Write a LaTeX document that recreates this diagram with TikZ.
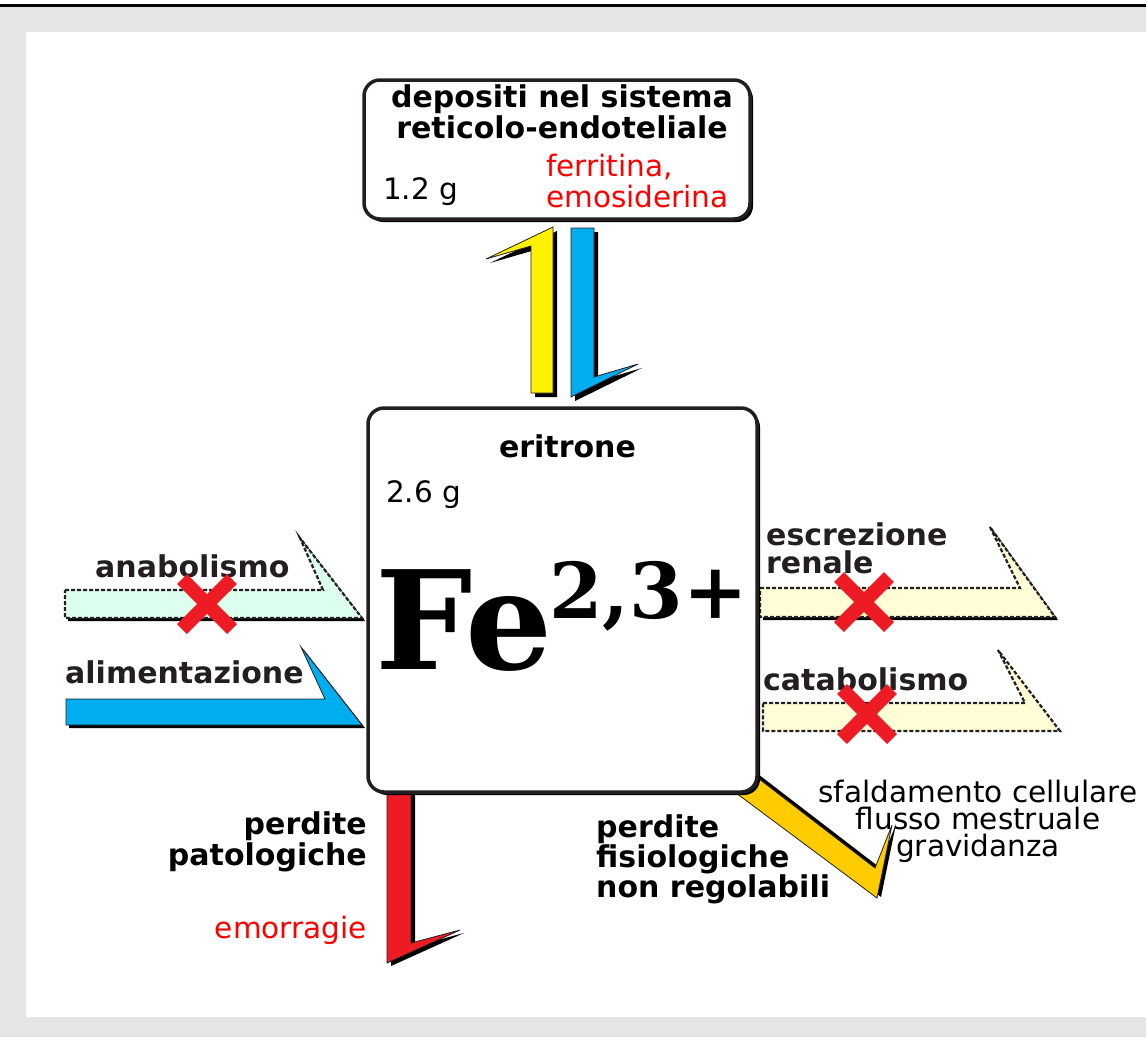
\documentclass[tikz,border=0pt]{standalone}
\usepackage{fontspec}
\setmainfont{DejaVu Sans}
\newfontfamily\feserif{DejaVu Serif}
\usepackage{tikz}
\usetikzlibrary{positioning}
\definecolor{feInk}{HTML}{231F20}
\definecolor{feGray}{HTML}{E6E6E6}
\definecolor{feBlue}{HTML}{00AEEF}
\definecolor{feYellow}{HTML}{FFF200}
\definecolor{feGold}{HTML}{FFCC00}
\definecolor{feRed}{HTML}{ED1C24}
\definecolor{feMint}{HTML}{DDFFEE}
\definecolor{feCream}{HTML}{FFFDD6}
\newcommand{\fetxt}{\fontsize{29.5}{31}\selectfont}
\newcommand{\febold}{\fontsize{30}{31}\selectfont\bfseries}
% flux arrow: shadow offset, style, outline
\newcommand{\flux}[3]{%
  \fill[black,shift={#1}] #3;
  \filldraw[#2] #3;}

\begin{document}
\begin{tikzpicture}[x=1pt,y=-1pt,
  box/.style={draw=feInk,line width=3.5pt,fill=white,rounded corners=16pt,inner sep=0pt,
    preaction={fill=black,transform canvas={shift={(3pt,-3pt)}}}},
  head/.style={font=\febold,inner sep=0pt,align=center},
  lbl/.style={font=\febold,text=feInk,inner sep=0pt},
  note/.style={font=\fetxt,inner sep=0pt},
  fluxsolid/.style={fill=#1,draw=feInk,line width=0.8pt},
  fluxdash/.style={fill=#1,draw=feInk,line width=2.2pt,dash pattern=on 4pt off 2pt},
  cross/.style={draw=feRed,line width=14pt}
]
\useasboundingbox (0,0) rectangle (1146,1037);
\fill[feGray] (0,7) rectangle (1146,1037);
\fill[white] (26,32) rectangle (1146,1017);
\draw[line width=2.5pt] (0,5.5) -- (1146,5.5);

% exchange with the stores
\flux{(4,4)}{fluxsolid=feYellow}{(531,393)--(531,246)--(486,259)--(553,227)--(553,393)--cycle}
\flux{(4,4)}{fluxsolid=feBlue}{(571,228)--(594,228)--(594,377)--(638,364)--(571,397)--cycle}
% losses
\flux{(4,3)}{fluxsolid=feRed}{(387,780)--(411,780)--(411,943)--(460,930)--(387,963)--cycle}
\flux{(4,-1)}{fluxsolid=feGold}{(750,772)--(875,868)--(892,825)--(877,898)--(732,790)--cycle}
% inputs and outputs
\flux{(3,3)}{fluxdash=feMint}{(65,590)--(323,590)--(300,538)--(362,618)--(65,618)--cycle}
\flux{(3,3)}{fluxsolid=feBlue}{(66,699)--(325,699)--(301,647)--(362,725)--(66,725)--cycle}
\flux{(3,3)}{fluxdash=feCream}{(760,588)--(1020,588)--(990,527)--(1055,617)--(760,617)--cycle}
\filldraw[fluxdash=feCream] (763,703)--(1025,703)--(998,650)--(1060,731)--(763,731)--cycle;

\node[box,minimum width=386pt,minimum height=139pt] (store) at (557,149.5) {};
\node[box,minimum width=389pt,minimum height=384pt] (pool) at (562.5,600) {};

% multi-line nodes: base = last line
\node[head,anchor=base] (storetitle) at (562,138) {depositi nel sistema\\reticolo-endoteliale};
\node[note,anchor=base west] (storemass) at (383,199) {1.2 g};
\node[note,text=red,align=left,anchor=base west] (storeform) at (546,207) {ferritina,\\emosiderina};

\node[head,anchor=base] (pooltitle) at (567.5,457) {eritrone};
\node[note,anchor=base west] (poolmass) at (386,502) {2.6 g};
\node[anchor=base west,inner sep=0pt,font=\feserif\bfseries\fontsize{137}{137}\selectfont] (iron)
  at (375,669) {Fe\kern-3pt\raisebox{51pt}{\fontsize{77}{77}\selectfont 2,3+}};

\node[lbl,anchor=base west] (anabol) at (95,577) {anabolismo};
\node[lbl,anchor=base west] (diet) at (65,683) {alimentazione};
\node[lbl,anchor=base west,align=left] (renal) at (766,573) {escrezione\\[-3pt]renale};
\node[lbl,anchor=base west] (catabol) at (763,690) {catabolismo};

\node[head,align=right,anchor=base east] (patho) at (367,865) {perdite\\patologiche};
\node[note,text=red,anchor=base east] (bleed) at (367,938) {emorragie};
\node[head,align=left,anchor=base west] (physio) at (596,897) {perdite\\[-1pt]fisiologiche\\[-1pt]non regolabili};
\node[note,align=center,anchor=base,font=\fontsize{29.5}{27}\selectfont] (causes) at (978,856)
  {sfaldamento cellulare\\flusso mestruale\\gravidanza};

\foreach \cx/\cy in {207/604,864/602,867/714}
  \draw[cross] (\cx-25,\cy-25) -- (\cx+25,\cy+25) (\cx-25,\cy+25) -- (\cx+25,\cy-25);
\end{tikzpicture}
\end{document}
